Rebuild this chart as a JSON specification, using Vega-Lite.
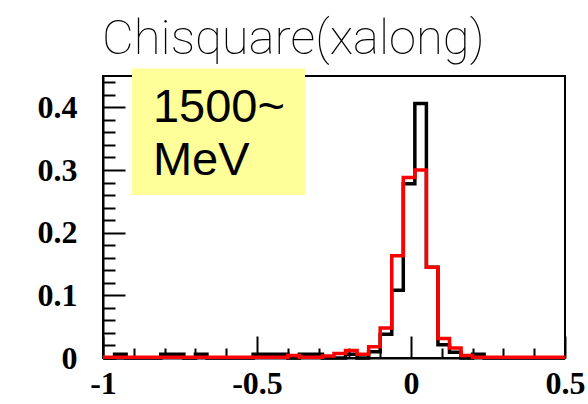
{
  "$schema": "https://vega.github.io/schema/vega-lite/v6.json",
  "width": 462,
  "height": 282,
  "autosize": {"type": "none"},
  "padding": {"left": 103, "top": 76, "right": 23, "bottom": 46},
  "background": "white",
  "config": {"view": {"stroke": "black", "strokeWidth": 2}},
  "title": {"text": "Chisquare(xalong)", "anchor": "start", "frame": "group", "font": "Roboto", "fontWeight": 100, "fontSize": 49, "color": "black", "baseline": "alphabetic", "offset": -37, "dx": -1},
  "data": {"values": [
    {"s":"black","x":-1,"y":0},{"s":"black","x":-0.9625,"y":0.006},{"s":"black","x":-0.925,"y":0},{"s":"black","x":-0.8875,"y":0},{"s":"black","x":-0.85,"y":0},{"s":"black","x":-0.8125,"y":0.006},{"s":"black","x":-0.775,"y":0.006},{"s":"black","x":-0.7375,"y":0},{"s":"black","x":-0.7,"y":0.006},{"s":"black","x":-0.6625,"y":0},{"s":"black","x":-0.625,"y":0},{"s":"black","x":-0.5875,"y":0},{"s":"black","x":-0.55,"y":0},{"s":"black","x":-0.5125,"y":0.006},{"s":"black","x":-0.475,"y":0.006},{"s":"black","x":-0.4375,"y":0.006},{"s":"black","x":-0.4,"y":0},{"s":"black","x":-0.3625,"y":0.006},{"s":"black","x":-0.325,"y":0.006},{"s":"black","x":-0.2875,"y":0},{"s":"black","x":-0.25,"y":0},{"s":"black","x":-0.2125,"y":0.006},{"s":"black","x":-0.175,"y":0},{"s":"black","x":-0.1375,"y":0.01},{"s":"black","x":-0.1,"y":0.038},{"s":"black","x":-0.0625,"y":0.108},{"s":"black","x":-0.025,"y":0.278},{"s":"black","x":0.0125,"y":0.406},{"s":"black","x":0.05,"y":0.145},{"s":"black","x":0.0875,"y":0.021},{"s":"black","x":0.125,"y":0.009},{"s":"black","x":0.1625,"y":0},{"s":"black","x":0.2,"y":0.006},{"s":"black","x":0.2375,"y":0},{"s":"black","x":0.275,"y":0},{"s":"black","x":0.3125,"y":0},{"s":"black","x":0.35,"y":0},{"s":"black","x":0.3875,"y":0},{"s":"black","x":0.425,"y":0},{"s":"black","x":0.4625,"y":0},{"s":"black","x":0.5,"y":0},
    {"s":"red","x":-1,"y":0.001},{"s":"red","x":-0.9625,"y":0.001},{"s":"red","x":-0.925,"y":0.001},{"s":"red","x":-0.8875,"y":0.001},{"s":"red","x":-0.85,"y":0.001},{"s":"red","x":-0.8125,"y":0.001},{"s":"red","x":-0.775,"y":0.001},{"s":"red","x":-0.7375,"y":0.001},{"s":"red","x":-0.7,"y":0.001},{"s":"red","x":-0.6625,"y":0.001},{"s":"red","x":-0.625,"y":0.001},{"s":"red","x":-0.5875,"y":0.001},{"s":"red","x":-0.55,"y":0.001},{"s":"red","x":-0.5125,"y":0.001},{"s":"red","x":-0.475,"y":0.001},{"s":"red","x":-0.4375,"y":0.001},{"s":"red","x":-0.4,"y":0.004},{"s":"red","x":-0.3625,"y":0.001},{"s":"red","x":-0.325,"y":0.001},{"s":"red","x":-0.2875,"y":0.003},{"s":"red","x":-0.25,"y":0.007},{"s":"red","x":-0.2125,"y":0.012},{"s":"red","x":-0.175,"y":0.006},{"s":"red","x":-0.1375,"y":0.018},{"s":"red","x":-0.1,"y":0.048},{"s":"red","x":-0.0625,"y":0.163},{"s":"red","x":-0.025,"y":0.288},{"s":"red","x":0.0125,"y":0.3},{"s":"red","x":0.05,"y":0.145},{"s":"red","x":0.0875,"y":0.031},{"s":"red","x":0.125,"y":0.016},{"s":"red","x":0.1625,"y":0.004},{"s":"red","x":0.2,"y":0.001},{"s":"red","x":0.2375,"y":0.001},{"s":"red","x":0.275,"y":0.001},{"s":"red","x":0.3125,"y":0.001},{"s":"red","x":0.35,"y":0.001},{"s":"red","x":0.3875,"y":0.001},{"s":"red","x":0.425,"y":0.001},{"s":"red","x":0.4625,"y":0.001},{"s":"red","x":0.5,"y":0.001}
  ]},
  "layer": [
    {
      "transform": [{"filter": "datum.s === 'black'"}],
      "mark": {"type": "line", "interpolate": "step-after", "color": "black", "strokeWidth": 3.5},
      "encoding": {
        "x": {"field": "x", "type": "quantitative", "scale": {"domain": [-1, 0.5], "nice": false, "zero": false},
          "axis": {"values": [-1,-0.9,-0.8,-0.7,-0.6,-0.5,-0.4,-0.3,-0.2,-0.1,0,0.1,0.2,0.3,0.4,0.5],
            "tickCount": 200,
            "tickSize": {"condition": {"test": "abs(datum.value*2 - round(datum.value*2)) < 0.001", "value": -22}, "value": -10},
            "labelExpr": "abs(datum.value*2 - round(datum.value*2)) < 0.001 ? (datum.value < 0 ? '-' : '') + format(abs(datum.value), '.1~f') : ''",
            "labelFont": "Liberation Serif", "labelFontWeight": "bold", "labelFontSize": 32, "labelColor": "black",
            "labelPadding": 32, "labelFlush": false, "labelOverlap": false, "labelBaseline": "top",
            "tickColor": "black", "tickWidth": 2, "domainColor": "black", "domainWidth": 2, "grid": false, "title": null}},
        "y": {"field": "y", "type": "quantitative", "scale": {"domain": [0, 0.45], "nice": false},
          "axis": {"values": [0,0.02,0.04,0.06,0.08,0.1,0.12,0.14,0.16,0.18,0.2,0.22,0.24,0.26,0.28,0.3,0.32,0.34,0.36,0.38,0.4,0.42,0.44],
            "tickCount": 200,
            "tickSize": {"condition": {"test": "abs(datum.value*10 - round(datum.value*10)) < 0.001", "value": -22}, "value": -12},
            "labelExpr": "abs(datum.value*10 - round(datum.value*10)) < 0.001 ? format(datum.value, '.1~f') : ''",
            "labelFont": "Liberation Serif", "labelFontWeight": "bold", "labelFontSize": 32, "labelColor": "black",
            "labelPadding": 48, "labelFlush": false, "labelOverlap": false,
            "tickColor": "black", "tickWidth": 2, "domainColor": "black", "domainWidth": 2, "grid": false, "title": null}}
      }
    },
    {
      "transform": [{"filter": "datum.s === 'red'"}],
      "mark": {"type": "line", "interpolate": "step-after", "color": "#ff0000", "strokeWidth": 3.5},
      "encoding": {
        "x": {"field": "x", "type": "quantitative"},
        "y": {"field": "y", "type": "quantitative"}
      }
    },
    {
      "data": {"values": [{"label": "box"}]},
      "mark": {"type": "rect", "color": "#ffff99"},
      "encoding": {
        "x": {"datum": -0.906, "type": "quantitative"},
        "x2": {"datum": -0.344},
        "y": {"datum": 0.462, "type": "quantitative"},
        "y2": {"datum": 0.26}
      }
    },
    {
      "data": {"values": [{"label": ["1500~", "MeV"]}]},
      "mark": {"type": "text", "font": "Liberation Sans", "fontSize": 47, "align": "left", "baseline": "alphabetic", "lineHeight": 53, "color": "black"},
      "encoding": {
        "x": {"datum": -0.838, "type": "quantitative"},
        "y": {"datum": 0.376, "type": "quantitative"},
        "text": {"field": "label"}
      }
    }
  ]
}
